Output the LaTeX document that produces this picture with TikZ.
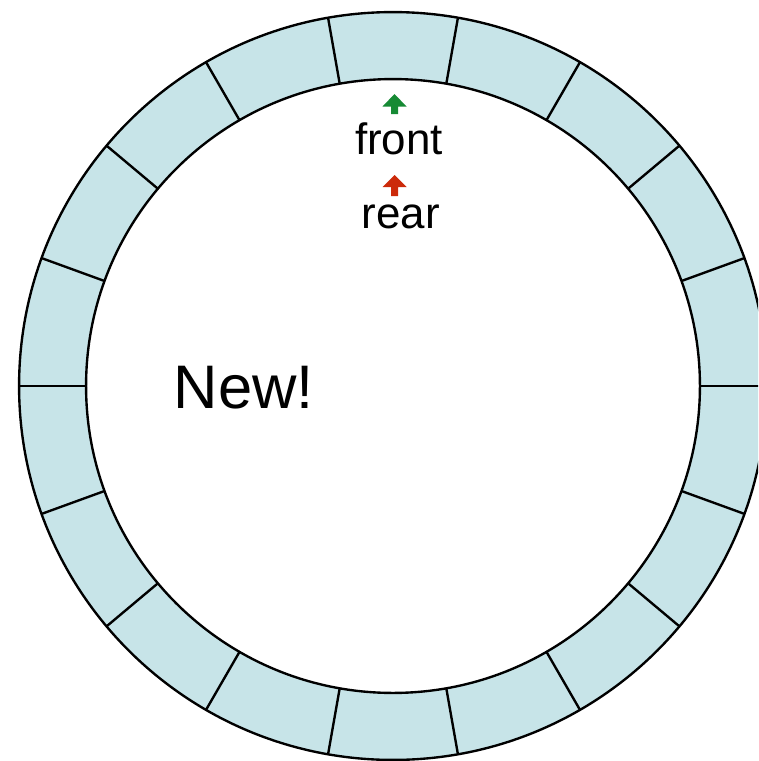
\documentclass[tikz,border=0pt]{standalone}
\usepackage{fontspec}
\setmainfont{Liberation Sans}
\usepackage{tikz}
\definecolor{ringblue}{RGB}{199, 228, 232}
\definecolor{frontgreen}{RGB}{22, 138, 52}
\definecolor{rearred}{RGB}{204, 42, 10}

\begin{document}
\begin{tikzpicture}[x=0.02cm, y=-0.02cm, line width=1.35pt]
        \useasboundingbox (0,0) rectangle (758,761);
        \clip (0,0) rectangle (758,761);
        \coordinate (c) at (393,386);

        % Ring of 18 slots
        \fill[ringblue, even odd rule] (c) circle (7.48cm) (c) circle (6.14cm);
        \draw (c) circle (7.48cm);
        \draw (c) circle (6.14cm);
        \foreach \a in {0,20,...,340}
            \draw (c) ++(\a:6.14cm) -- ++(\a:1.34cm);

        % Pointers
        \fill[frontgreen] (394.5,94) -- (406.5,106.5) -- (398,106.5) -- (398,114)
            -- (391,114) -- (391,106.5) -- (382.5,106.5) -- cycle;
        \fill[rearred] (394.5,175) -- (406.5,187) -- (398,187) -- (398,196)
            -- (391,196) -- (391,187) -- (382.5,187) -- cycle;
        \node[anchor=base, font=\fontsize{25}{30}\selectfont] (front) at (399,154) {front};
        \node[anchor=base, font=\fontsize{25}{30}\selectfont] (rear) at (401,228) {rear};

        % Label
        \node[anchor=base, font=\fontsize{35}{42}\selectfont] (new) at (244,408) {New!};
    \end{tikzpicture}
\end{document}
